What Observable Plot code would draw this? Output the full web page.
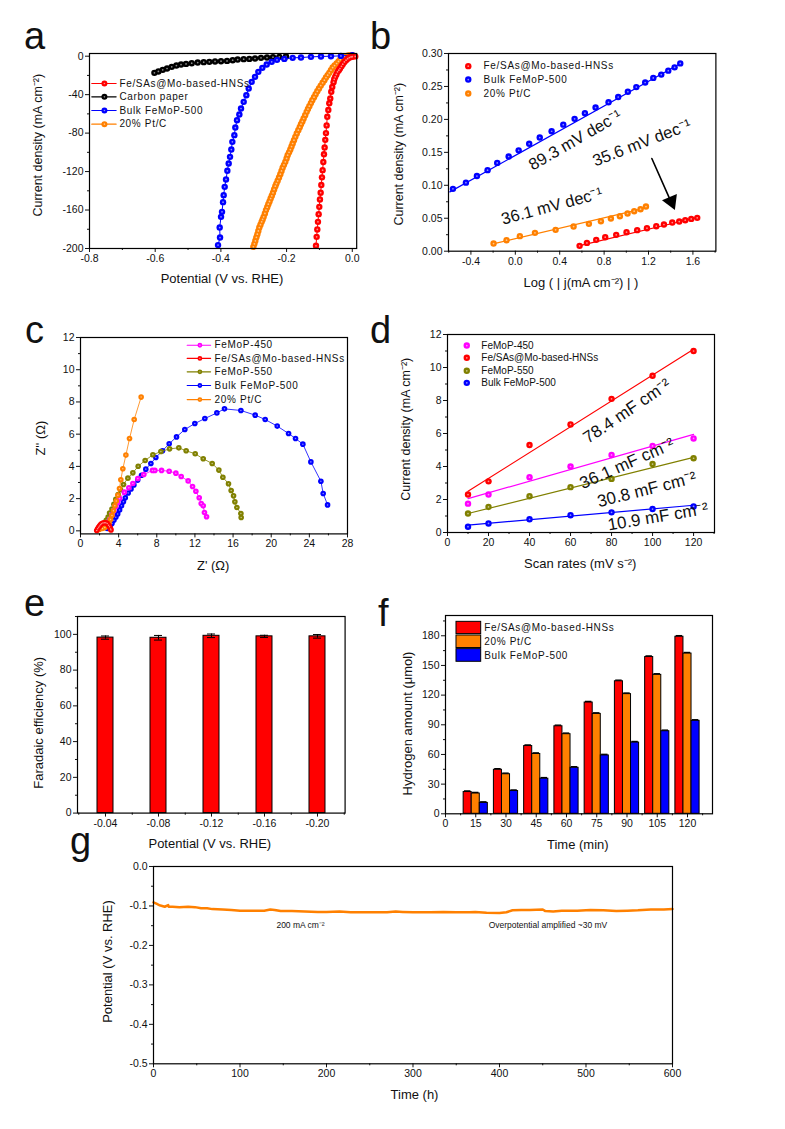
<!DOCTYPE html>
<html><head><meta charset="utf-8">
<script src="https://cdn.jsdelivr.net/npm/d3@7"></script>
<script src="https://cdn.jsdelivr.net/npm/@observablehq/plot@0.6"></script>
<style>
html,body{margin:0;padding:0;background:#fff}
#page{position:relative;width:785px;height:1129px;overflow:hidden;font-family:"Liberation Sans",Arial,sans-serif;color:#111}
.letter{position:absolute;font-size:38px;line-height:normal}
</style></head><body><div id="page"></div>
<script>
// ---------- panel a: LSV curves [potential, current density]
const aRed=[[-.1105,-197.2],[-.1085,-187.9],[-.1065,-180.2],[-.1045,-172.3],[-.1024,-164.3],[-.1004,-156.7],[-.0984,-149],[-.0963,-142],[-.0943,-134],[-.0923,-126],[-.0903,-118.5],[-.0882,-110],[-.0862,-102],[-.0842,-95],[-.0822,-87],[-.0801,-80],[-.0781,-72],[-.0761,-63],[-.073,-56],[-.07,-49],[-.067,-44],[-.064,-37],[-.061,-32],[-.057,-27],[-.055,-24],[-.052,-21.5],[-.0485,-19],[-.045,-16.3],[-.041,-14.5],[-.0375,-12.8],[-.033,-10.5],[-.029,-8.3],[-.024,-6],[-.019,-4.2],[-.014,-2.6],[-.009,-1.4],[-.004,-.8],[0,-.5],[.009,-.2]];
const aOrange=[[-.3012,-198.3],[-.298,-195.2],[-.2951,-192],[-.292,-188.4],[-.289,-185.1],[-.286,-181.8],[-.283,-178.2],[-.2795,-175.2],[-.2759,-172.3],[-.273,-169.8],[-.2698,-167.1],[-.266,-163.5],[-.2627,-160.1],[-.259,-157.1],[-.2556,-153.9],[-.252,-151],[-.2485,-148],[-.245,-145.2],[-.2414,-142.1],[-.238,-138.6],[-.2343,-135.2],[-.231,-132.5],[-.2272,-129.6],[-.223,-126.2],[-.2191,-122.7],[-.2155,-119.3],[-.212,-116.1],[-.208,-113],[-.2039,-109.9],[-.2,-106.3],[-.1968,-102.9],[-.1925,-100],[-.1886,-97.1],[-.185,-94],[-.1815,-90.8],[-.1775,-87.3],[-.1734,-83.9],[-.169,-80.4],[-.1643,-76.9],[-.16,-73.8],[-.1562,-70.7],[-.152,-67.8],[-.1481,-64.8],[-.1435,-61.3],[-.1389,-57.9],[-.135,-55],[-.1308,-52],[-.126,-48.8],[-.1217,-45.8],[-.1165,-42.6],[-.1116,-39.5],[-.1065,-36.5],[-.1014,-33.6],[-.096,-30.6],[-.0903,-27.7],[-.085,-24.9],[-.0801,-22.2],[-.075,-19.7],[-.07,-17.3],[-.065,-14.5],[-.0598,-11.8],[-.054,-9.7],[-.0477,-7.6],[-.042,-5.4],[-.0365,-3.5],[-.03,-2],[-.0243,-.7],[-.018,0],[-.0122,.7],[-.006,.9],[0,1]];
const aBlue=[[-.4087,-196.5],[-.4026,-188.6],[-.4037,-178.2],[-.3996,-167.1],[-.3966,-161.9],[-.3935,-151.8],[-.3915,-144.5],[-.3884,-135.9],[-.3844,-128.2],[-.3803,-119.2],[-.3763,-111.6],[-.3722,-104.7],[-.3682,-97.1],[-.3651,-89.1],[-.359,-82.1],[-.356,-74.2],[-.3509,-66.6],[-.3438,-60.7],[-.3387,-54.4],[-.3306,-47.5],[-.3225,-40.6],[-.3154,-33.6],[-.3063,-26.7],[-.2961,-21.5],[-.286,-16.3],[-.2738,-12.1],[-.2606,-8.7],[-.2454,-5.9],[-.2292,-3.8],[-.2069,-2.8],[-.1815,-1.7],[-.1562,-1.4],[-.1258,-.7],[-.0953,-.3],[-.0649,0],[-.0345,.3],[0,1]];
const aBlack=[[-.6024,-17.3],[-.5903,-15.9],[-.5771,-14.2],[-.5639,-12.8],[-.5497,-11.1],[-.5355,-9.7],[-.5213,-8.7],[-.5061,-8],[-.4888,-7.3],[-.4706,-6.6],[-.4523,-6.2],[-.4351,-5.9],[-.4178,-5.5],[-.3996,-5.2],[-.3813,-4.9],[-.3641,-4.2],[-.3489,-3.5],[-.3306,-3.1],[-.3134,-2.8],[-.2961,-2.4],[-.2779,-1.7],[-.2596,-1.4],[-.2414,-1],[-.2221,-.7],[-.2018,-.3]];
// ---------- panel b: Tafel points and fits
const bBlue=[[-.562,.0946],[-.445,.104],[-.346,.114],[-.25,.123],[-.163,.134],[-.06,.1437],[.03,.153],[.125,.163],[.22,.1725],[.327,.182],[.432,.192],[.534,.2008],[.627,.2094],[.723,.218],[.84,.226],[.927,.234],[1.014,.242],[1.09,.249],[1.17,.256],[1.243,.263],[1.315,.268],[1.378,.274],[1.435,.279],[1.486,.285]];
const bOrange=[[-.196,.0116],[-.079,.0167],[.041,.0228],[.177,.0278],[.363,.0324],[.525,.0374],[.663,.0415],[.771,.0455],[.861,.0496],[.942,.0531],[1.011,.0572],[1.071,.0607],[1.128,.0637],[1.177,.0678]];
const bRed=[[.579,.0081],[.645,.0126],[.729,.0172],[.81,.0212],[.909,.0248],[1.002,.0288],[1.098,.0319],[1.186,.0349],[1.27,.0379],[1.339,.0405],[1.414,.0435],[1.477,.045],[1.531,.047],[1.585,.049],[1.639,.0506]];
const bBlueFit=[[-.59,.09],[1.5,.286]], bOrangeFit=[[-.2,.0112],[1.2,.0665]], bRedFit=[[.58,.0085],[1.65,.0515]];
// ---------- panel c: Nyquist curves [Z', Z'']
const cBlue=[[25.91,1.61],[25.45,2.32],[25.21,3.08],[24.16,4.28],[23.32,5.38],[22.55,5.73],[21.82,6.04],[20.63,6.5],[19.37,6.91],[18.32,7.18],[16.82,7.47],[15.1,7.57],[14.3,7.32],[13.04,6.97],[11.99,6.66],[10.94,6.29],[10.07,5.83],[9.3,5.4],[8.6,4.97],[7.9,4.55],[7.38,4.18],[6.85,3.83],[6.4,3.45],[6,3.15],[5.6,2.85],[5.3,2.6],[5,2.35],[4.7,2.05],[4.5,1.8],[4.3,1.55],[4.1,1.3],[3.9,1.05],[3.7,.85],[3.5,.65],[3.3,.45],[3.1,.3],[2.8,.15]];
const cOlive=[[16.85,.83],[16.82,1.08],[16.4,1.45],[16.19,1.8],[16.05,2.17],[15.8,2.5],[15.52,2.92],[14.93,3.33],[14.51,3.77],[13.81,4.18],[12.87,4.47],[12.03,4.78],[11.08,4.97],[10.31,5.15],[9.34,5.09],[8.43,4.92],[7.59,4.72],[6.78,4.37],[6.05,4.01],[5.49,3.6],[4.97,3.27],[4.51,2.88],[4.2,2.55],[3.95,2.25],[3.7,1.95],[3.5,1.65],[3.3,1.35],[3.05,1.1],[2.9,.85],[2.7,.65],[2.5,.4],[2.3,.2]];
const cMagenta=[[13.22,.87],[13,1.14],[12.87,1.55],[12.66,1.7],[12.45,2.05],[12.1,2.46],[11.75,2.75],[11.29,3.1],[10.56,3.37],[10,3.58],[9.3,3.7],[8.5,3.75],[7.8,3.75],[7.55,3.75],[6.64,3.5],[6.01,3.25],[5.49,2.94],[5.07,2.67],[4.6,2.4],[4.1,2],[3.9,1.75],[3.7,1.5],[3.5,1.25],[3.3,1],[3.1,.7],[2.9,.5],[2.7,.3]];
const cOrange=[[6.36,8.3],[5.63,6.91],[5.14,5.73],[4.76,4.7],[4.44,3.85],[4.23,3.17],[4.09,2.63],[3.92,2.21],[3.75,1.85],[3.6,1.55],[3.45,1.25],[3.3,.95],[3.15,.7],[3,.5],[2.8,.3],[2.55,.2],[2.3,.15],[2,.1],[1.8,.05]];
const cRed=[[1.7,.02],[1.8,.13],[1.9,.22],[2,.3],[2.1,.38],[2.2,.44],[2.35,.48],[2.5,.5],[2.65,.5],[2.8,.46],[2.95,.35],[3.05,.25],[3.15,.12],[3.2,.05]];
// ---------- panel d: scan rates and currents
const dRates=[10,20,40,60,80,100,120];
const dRed=[2.3,3.1,5.3,6.55,8.1,9.5,11], dMagenta=[1.75,2.3,3.35,4,4.7,5.25,5.7], dOlive=[1.15,1.55,2.2,2.75,3.25,4.15,4.5], dBlue=[.35,.55,.8,1.05,1.22,1.42,1.58];
const dRedFit=[[10,2.5],[120,11.1]], dMagentaFit=[[10,2.05],[120,5.95]], dOliveFit=[[10,1.15],[120,4.55]], dBlueFit=[[10,.45],[120,1.65]];
// ---------- panel e: Faradaic efficiency
const eCats=["-0.04","-0.08","-0.12","-0.16","-0.20"];
const eValues=[98.2,98.1,99.2,98.9,98.9], eErrors=[.9,1.3,1,.6,1];
// ---------- panel f: hydrogen amount
const fTimes=[15,30,45,60,75,90,105,120];
const fRed=[22,44.5,68.5,88.5,112.5,134,158.5,179], fOrange=[20.5,40,60.5,80.5,101,121,140.5,162], fBlue=[11,23,35.5,46.5,59,72,83.5,94];
// ---------- panel g: stability
const gTrace=[[0,-.091],[2,-.093],[4,-.095],[6,-.097],[8,-.099],[10,-.1],[13,-.102],[17,-.098],[17.5,-.102],[22,-.102],[30,-.103],[40,-.102],[48,-.103],[55,-.106],[62,-.106],[68,-.108],[80,-.109],[90,-.11],[100,-.112],[115,-.112],[128,-.112],[135,-.109],[140,-.11],[147,-.113],[160,-.113],[175,-.114],[190,-.115],[200,-.115],[215,-.114],[228,-.116],[250,-.116],[270,-.116],[280,-.114],[288,-.115],[300,-.116],[320,-.116],[335,-.115],[350,-.116],[365,-.116],[372,-.115],[385,-.117],[400,-.118],[408,-.116],[415,-.111],[425,-.11],[435,-.11],[450,-.109],[453,-.113],[462,-.114],[472,-.112],[490,-.112],[505,-.11],[520,-.111],[535,-.113],[548,-.112],[560,-.111],[575,-.109],[590,-.109],[600,-.108]];

const RED="#ff0000",BLUE="#0000ff",ORANGE="#ff8000",OLIVE="#808000",MAGENTA="#ff00ff",BLACK="#000000";
const FONT='"Liberation Sans",Arial,sans-serif';
const page=document.getElementById("page");
const px=d=>d[0], py=d=>d[1];
const spacedLabels=new Set();

function axes(xMajor,xMinor,yMajor,yMinor,xFmt,yFmt){
  const a=[];
  a.push(Plot.axisX({anchor:"bottom",ticks:xMajor,tickSize:4,tickPadding:2,fontSize:10.5,tickFormat:xFmt,color:"#111",label:null}));
  if(xMinor) a.push(Plot.axisX({anchor:"bottom",ticks:xMinor,tickSize:2,text:null,color:"#111",label:null}));
  a.push(Plot.axisY({anchor:"left",ticks:yMajor,tickSize:4,tickPadding:2,fontSize:10.5,tickFormat:yFmt,color:"#111",label:null}));
  if(yMinor) a.push(Plot.axisY({anchor:"left",ticks:yMinor,tickSize:2,text:null,color:"#111",label:null}));
  return a;
}
function panel(f,x,y,marks,titles){
  const [L,T,R,B]=f, ML=72,MT=10,MR=14,MB=56;
  const xT=Plot.text([titles.x[0]],{text:d=>d,frameAnchor:"bottom",lineAnchor:"middle",fontSize:13,fill:"#111",dx:titles.x[1]-(L+R)/2,dy:titles.x[2]-B});
  const yT=Plot.text([titles.y[0]],{text:d=>d,frameAnchor:"left",textAnchor:"middle",lineAnchor:"middle",rotate:-90,fontSize:titles.ys||13,fill:"#111",dx:titles.y[1]-L,dy:titles.y[2]-(T+B)/2});
  const p=Plot.plot({width:R-L+ML+MR,height:B-T+MT+MB,marginLeft:ML,marginTop:MT,marginRight:MR,marginBottom:MB,
    x:{...x,axis:null,label:null},y:{...y,axis:null,label:null},
    style:{background:"transparent",overflow:"visible",fontFamily:FONT,maxWidth:"none"},
    marks:[...marks,Plot.frame({stroke:"black",strokeWidth:1.2}),xT,yT]});
  p.style.position="absolute";p.style.left=(L-ML)+"px";p.style.top=(T-MT)+"px";
  if(titles.spaced) p.querySelectorAll("text").forEach(t=>{if(spacedLabels.has(t.textContent)) t.style.letterSpacing="0.68px";});
  page.appendChild(p);
}
["Fe/SAs@Mo-based-HNSs","Carbon paper","Bulk FeMoP-500","20% Pt/C","FeMoP-450","FeMoP-550"].forEach(s=>spacedLabels.add(s));
function points(data,color,r=3.2){
  return [Plot.dot(data,{x:px,y:py,r,fill:color,stroke:null}),
          Plot.dot(data,{x:px,y:py,r:r*.27,fill:"#fff",fillOpacity:.55,stroke:null})];
}
function curve(data,color,r=3.2,sw=1){
  return [Plot.line(data,{x:px,y:py,stroke:color,strokeWidth:sw,curve:"linear"}),...points(data,color,r)];
}
function lineLegend(x1,x2,xm,xt,y,label,color,r=3){
  const seg=[[x1,y],[x2,y]];
  return [Plot.line(seg,{x:px,y:py,stroke:color,strokeWidth:1.2}),...points([[xm,y]],color,r),
    Plot.text([label],{x:xt,y,text:d=>d,textAnchor:"start",fontSize:10,fill:"#111"})];
}
function dotLegend(xm,xt,y,label,color){
  return [...points([[xm,y]],color,3.2),
    Plot.text([label],{x:xt,y,text:d=>d,textAnchor:"start",fontSize:10,fill:"#111"})];
}
function note(label,x,y,rotate,size=16){
  return Plot.text([label],{x,y,text:d=>d,rotate,fontSize:size,fill:"#111",textAnchor:"middle",lineAnchor:"middle"});
}
const f1=d=>d.toFixed(1), f2=d=>d.toFixed(2), f0=d=>String(d);

// a
panel([88.5,53.3,355.7,248.3],{domain:[-.8,.0134]},{domain:[-200,2.8]},[
  ...axes([-.8,-.6,-.4,-.2,0],[-.7,-.5,-.3,-.1],[-200,-160,-120,-80,-40,0],[-180,-140,-100,-60,-20],f1,f0),
  ...curve(aBlack,BLACK),...curve(aOrange,ORANGE),...curve(aBlue,BLUE),...curve(aRed,RED),
  ...lineLegend(-.793,-.719,-.7546,-.709,-28.4,"Fe/SAs@Mo-based-HNSs",RED),
  ...lineLegend(-.793,-.719,-.7546,-.709,-42.3,"Carbon paper",BLACK),
  ...lineLegend(-.793,-.719,-.7546,-.709,-56.5,"Bulk FeMoP-500",BLUE),
  ...lineLegend(-.793,-.719,-.7546,-.709,-70.7,"20% Pt/C",ORANGE)
],{x:["Potential (V vs. RHE)",221,279],y:["Current density (mA cm⁻²)",36.7,145],ys:12.5,spaced:true});

// b
panel([448.3,53.3,715.7,251],{domain:[-.602,1.807]},{domain:[0,.3]},[
  ...axes([-.4,0,.4,.8,1.2,1.6],[-.6,-.2,.2,.6,1,1.4,1.8],[0,.05,.1,.15,.2,.25,.3],[.025,.075,.125,.175,.225,.275],f1,f2),
  Plot.line(bBlueFit,{x:px,y:py,stroke:BLUE,strokeWidth:1.2}),
  Plot.line(bOrangeFit,{x:px,y:py,stroke:ORANGE,strokeWidth:1.2}),
  Plot.line(bRedFit,{x:px,y:py,stroke:RED,strokeWidth:1.2}),
  ...points(bBlue,BLUE),...points(bOrange,ORANGE),...points(bRed,RED),
  ...dotLegend(-.424,-.286,.2808,"Fe/SAs@Mo-based-HNSs",RED),
  ...dotLegend(-.424,-.286,.2605,"Bulk FeMoP-500",BLUE),
  ...dotLegend(-.424,-.286,.2393,"20% Pt/C",ORANGE),
  note("89.3 mV dec⁻¹",.54,.1685,-30,16.5),
  note("35.6 mV dec⁻¹",1.14,.1644,-21,16.5),
  note("36.1 mV dec⁻¹",.33,.0683,-15,16.5),
  Plot.line([[1.23,.1406],[1.4,.076]],{x:px,y:py,stroke:BLACK,strokeWidth:1.6}),
  Plot.dot([[1.405,.0755]],{x:px,y:py,symbol:"triangle",r:6,fill:BLACK,stroke:null,rotate:157})
],{x:["Log ( | j(mA cm⁻²) | )",580.7,283],y:["Current density (mA cm⁻²)",399,154],ys:12.5,spaced:true});

// c
panel([80,337.3,347,533.7],{domain:[0,28]},{domain:[-.19,12]},[
  ...axes([0,4,8,12,16,20,24,28],[2,6,10,14,18,22,26],[0,2,4,6,8,10,12],[1,3,5,7,9,11],f0,f0),
  ...curve(cBlue,BLUE,2.8,.8),...curve(cOlive,OLIVE,2.8,.8),...curve(cMagenta,MAGENTA,2.8,.8),...curve(cOrange,ORANGE,2.8,.8),...curve(cRed,RED,2.8,.8),
  ...lineLegend(11.19,13.64,12.52,14.06,11.52,"FeMoP-450",MAGENTA,2.4),
  ...lineLegend(11.19,13.64,12.52,14.06,10.7,"Fe/SAs@Mo-based-HNSs",RED,2.4),
  ...lineLegend(11.19,13.64,12.52,14.06,9.87,"FeMoP-550",OLIVE,2.4),
  ...lineLegend(11.19,13.64,12.52,14.06,9.02,"Bulk FeMoP-500",BLUE,2.4),
  ...lineLegend(11.19,13.64,12.52,14.06,8.15,"20% Pt/C",ORANGE,2.4)
],{x:["Z' (Ω)",212.7,565.7],y:["Z'' (Ω)",40.7,438],spaced:true});

// d
const pairs=v=>dRates.map((r,i)=>[r,v[i]]);
panel([447.3,334.3,714.3,532.3],{domain:[0,130.2]},{domain:[0,12]},[
  ...axes([0,20,40,60,80,100,120],[10,30,50,70,90,110,130],[0,2,4,6,8,10,12],[1,3,5,7,9,11],f0,f0),
  Plot.line(dRedFit,{x:px,y:py,stroke:RED,strokeWidth:1.2}),
  Plot.line(dMagentaFit,{x:px,y:py,stroke:MAGENTA,strokeWidth:1.2}),
  Plot.line(dOliveFit,{x:px,y:py,stroke:OLIVE,strokeWidth:1.2}),
  Plot.line(dBlueFit,{x:px,y:py,stroke:BLUE,strokeWidth:1.2}),
  ...points(pairs(dRed),RED),...points(pairs(dMagenta),MAGENTA),...points(pairs(dOlive),OLIVE),...points(pairs(dBlue),BLUE),
  ...dotLegend(9.4,16.5,11.33,"FeMoP-450",MAGENTA),
  ...dotLegend(9.4,16.5,10.59,"Fe/SAs@Mo-based-HNSs",RED),
  ...dotLegend(9.4,16.5,9.8,"FeMoP-550",OLIVE),
  ...dotLegend(9.4,16.5,9.07,"Bulk FeMoP-500",BLUE),
  note("78.4 mF cm⁻²",87.5,7.35,-34,17),
  note("36.1 mF cm⁻²",87.5,4.18,-24,17),
  note("30.8 mF cm⁻²",97.2,2.6,-14,17),
  note("10.9 mF cm⁻²",102.6,.95,-9.5,17)
],{x:["Scan rates (mV s⁻²)",580,564],y:["Current density (mA cm⁻²)",406,429],ys:12.5});

// e
const eStep=(344.3-76.7)/5;
const eTable=eCats.map((c,i)=>({c,v:eValues[i],e:eErrors[i]}));
panel([76.7,615.7,344.3,812.3],{type:"band",domain:eCats,paddingInner:.7,paddingOuter:.35},{domain:[0,110]},[
  Plot.axisX({anchor:"bottom",tickSize:4,tickPadding:2,fontSize:10.5,color:"#111",label:null}),
  Plot.ruleX(eCats,{x:d=>d,dx:eStep/2,y1:0,y2:-1.2,stroke:"#111"}),
  Plot.ruleX([eCats[0]],{x:d=>d,dx:-eStep/2,y1:0,y2:-1.2,stroke:"#111"}),
  Plot.axisY({anchor:"left",ticks:[0,20,40,60,80,100],tickSize:4,tickPadding:2,fontSize:10.5,color:"#111",label:null}),
  Plot.axisY({anchor:"left",ticks:[10,30,50,70,90,110],tickSize:2,text:null,color:"#111",label:null}),
  Plot.barY(eTable,{x:"c",y:"v",fill:RED,stroke:BLACK,strokeWidth:1}),
  Plot.ruleX(eTable,{x:"c",y1:d=>d.v-d.e,y2:d=>d.v+d.e,stroke:BLACK,strokeWidth:1}),
  Plot.tickY(eTable,{x:"c",y:d=>d.v-d.e,stroke:BLACK,strokeWidth:1,insetLeft:4,insetRight:4}),
  Plot.tickY(eTable,{x:"c",y:d=>d.v+d.e,stroke:BLACK,strokeWidth:1,insetLeft:4,insetRight:4})
],{x:["Potential (V vs. RHE)",209,843],y:["Faradaic efficiency (%)",38,722]});

// f
const fSeries=(v,off,color)=>{
  const t=fTimes.map((x,i)=>({x,v:v[i]}));
  return [
    Plot.rectY(t,{x1:d=>d.x+off-2,x2:d=>d.x+off+2,y1:0,y2:"v",fill:color,stroke:BLACK,strokeWidth:1}),
    Plot.rectY(t,{x1:d=>d.x+off-1.6,x2:d=>d.x+off+1.6,y1:"v",y2:d=>d.v+1.3,fill:BLACK,stroke:null})
  ];
};
const fLegend=(y1,y2,label,color)=>[
  Plot.rectY([label],{x1:5.45,x2:17.7,y1,y2,fill:color,stroke:BLACK,strokeWidth:1}),
  Plot.text([label],{x:19.2,y:(y1+y2)/2,text:d=>d,textAnchor:"start",fontSize:10,fill:"#111"})
];
panel([444.7,615,711.7,813.3],{domain:[0,132.4]},{domain:[0,200.5]},[
  ...axes(fTimes.concat([0]),[7.5,22.5,37.5,52.5,67.5,82.5,97.5,112.5,127.5],[0,30,60,90,120,150,180],[15,45,75,105,135,165,195],f0,f0),
  ...fSeries(fRed,-4,RED),...fSeries(fOrange,0,ORANGE),...fSeries(fBlue,4,BLUE),
  ...fLegend(181.7,194.1,"Fe/SAs@Mo-based-HNSs",RED),
  ...fLegend(167.6,180.3,"20% Pt/C",ORANGE),
  ...fLegend(153.7,166.5,"Bulk FeMoP-500",BLUE)
],{x:["Time (min)",577,844],y:["Hydrogen amount (μmol)",406.7,723],spaced:true});

// g
panel([153,866,672,1063.3],{domain:[0,600]},{domain:[-.5,0]},[
  ...axes([0,100,200,300,400,500,600],[50,150,250,350,450,550],[-.5,-.4,-.3,-.2,-.1,0],[-.45,-.35,-.25,-.15,-.05],f0,f1),
  Plot.line(gTrace,{x:px,y:py,stroke:ORANGE,strokeWidth:2.5}),
  note("200 mA cm⁻²",170,-.1486,0,8.5),
  note("Overpotential amplified ~30 mV",456,-.1486,0,8.5)
],{x:["Time (h)",414,1094],y:["Potential (V vs. RHE)",107,961]});

// panel letters
[["a",24,50],["b",370,50],["c",25,344],["d",370,344],["e",24,617],["f",378,627],["g",70,855]].forEach(([t,x,b])=>{
  const s=document.createElement("div");s.className="letter";s.textContent=t;s.style.left=x+"px";s.style.top=(b-35)+"px";page.appendChild(s);
});
</script></body></html>
